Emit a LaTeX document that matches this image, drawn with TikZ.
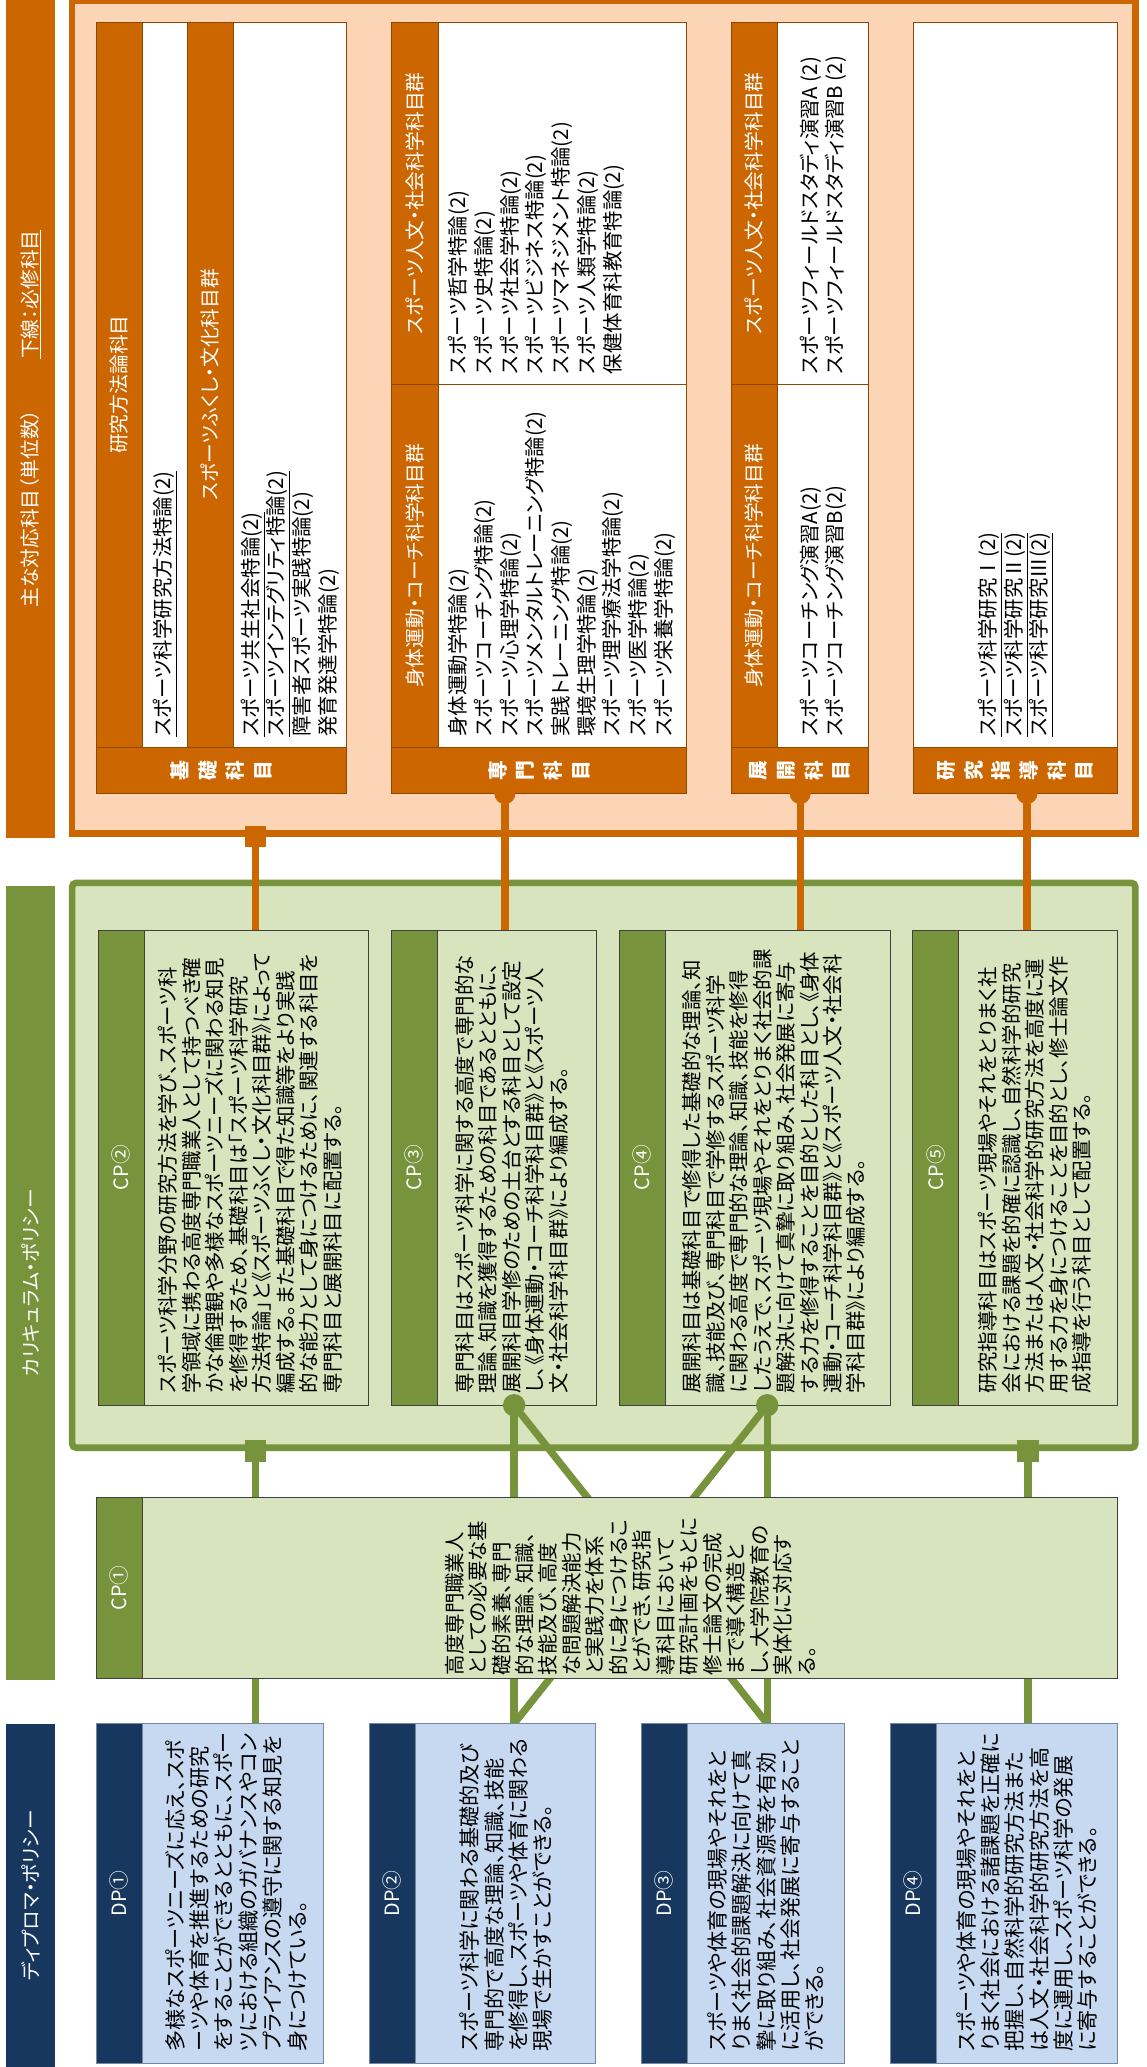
\documentclass[tikz,border=0pt]{standalone}
\usepackage{fontspec}
\setmainfont[RawFeature=+palt]{Noto Sans CJK JP}
\usetikzlibrary{positioning}
\definecolor{orline}{HTML}{CC6600}
\definecolor{orback}{HTML}{FBD5B5}
\definecolor{grline}{HTML}{77933C}
\definecolor{grback}{HTML}{D7E4BD}
\definecolor{nvline}{HTML}{17375E}
\definecolor{nvback}{HTML}{C6D9F1}
\pgfdeclarelayer{frames}
\pgfdeclarelayer{links}
\pgfsetlayers{frames,links,main}

\begin{document}
\begin{tikzpicture}[
  x = 1pt, y = 1pt, rotate = 90, transform shape,
  title_bar/.style={rectangle, anchor=south west, inner sep=0pt, minimum height=37pt, text=white,
    font=\fontsize{15}{18}\selectfont},
  frame_or/.style={rectangle, anchor=south west, inner sep=0pt, draw=orline, line width=5pt, fill=orback},
  frame_gr/.style={rectangle, anchor=south west, inner sep=0pt, draw=grline, line width=5pt, fill=grback,
    rounded corners=3pt},
  strip/.style={rectangle, anchor=south west, inner sep=0pt, minimum width=35pt, fill=orline,
    draw=orline!70!black, line width=0.4pt, text=white, align=center, font=\fontsize{15}{21}\selectfont\bfseries},
  head/.style={rectangle, anchor=south west, inner sep=0pt, fill=orline, draw=orline!70!black,
    line width=0.4pt, text=white, font=\fontsize{15}{18}\selectfont},
  cell/.style={rectangle, anchor=south west, inner sep=0pt, fill=white, draw=orline!70!black, line width=0.4pt},
  list/.style={anchor=west, inner sep=0pt, align=left, font=\fontsize{15.5}{19.5}\selectfont},
  cp_body/.style={rectangle, anchor=south west, inner sep=0pt, minimum width=360pt, fill=grback,
    draw=black!75, line width=0.5pt},
  cp_head/.style={rectangle, anchor=south west, inner sep=0pt, minimum width=360pt, minimum height=35pt,
    fill=grline, draw=black!75, line width=0.5pt, text=white, font=\fontsize{15}{18}\selectfont},
  cp_text/.style={anchor=north west, inner sep=0pt, align=left, font=\fontsize{15.5}{17.8}\selectfont},
  dp_body/.style={rectangle, anchor=south west, inner sep=0pt, minimum width=258pt, fill=nvback,
    draw=nvline!60, line width=0.5pt},
  dp_head/.style={rectangle, anchor=south west, inner sep=0pt, minimum width=258pt, minimum height=34.5pt,
    fill=nvline, draw=nvline!60, line width=0.5pt, text=white, font=\fontsize{15}{18}\selectfont},
  dp_text/.style={anchor=west, inner sep=0pt, align=left, font=\fontsize{16}{18.5}\selectfont},
  link_or/.style={draw=orline, line width=5.5pt, line cap=round},
  link_gr/.style={draw=grline, line width=5.5pt, line cap=round},
  tab_or/.style={circle, fill=orline, inner sep=0pt, minimum size=16pt},
  dot_gr/.style={circle, fill=grline, inner sep=0pt, minimum size=17pt},
  square_or/.style={rectangle, fill=orline, inner sep=0pt, minimum size=16pt},
  square_gr/.style={rectangle, fill=grline, inner sep=0pt, minimum size=16pt}
  ]

\useasboundingbox (0,0) rectangle (1568,870);

\node [title_bar, fill=orline, minimum width=636pt] (bar_kamoku) at (932,828) {主な対応科目（単位数）\hspace{39pt}\underline{下線：必修科目}};
\node [title_bar, fill=grline, minimum width=603pt] (bar_cp) at (293,828) {カリキュラム・ポリシー};
\node [title_bar, fill=nvline, minimum width=260pt] (bar_dp) at (0,828) {ディプロマ・ポリシー};

\begin{pgfonlayer}{frames}
\node [frame_or, minimum width=631.5pt, minimum height=806.5pt] (kamoku) at (933.25,6.25) {};
\node [frame_gr, minimum width=428.5pt, minimum height=806.5pt] (cp_area) at (467.25,6.25) {};
\end{pgfonlayer}

\node [strip, minimum height=190pt] (kiso) at (966,607) {基\\礎\\科\\目};
\node [head, minimum width=550pt, minimum height=35pt] (kiso_head1) at (1001,762) {研究方法論科目};
\node [cell, minimum width=550pt, minimum height=34pt] (kiso_cell1) at (1001,728) {};
\node [head, minimum width=550pt, minimum height=35pt] (kiso_head2) at (1001,693) {スポーツふくし・文化科目群};
\node [cell, minimum width=550pt, minimum height=86pt] (kiso_cell2) at (1001,607) {};
\node [list] (kiso_list1) at (1009,745) {\underline{スポーツ科学研究方法特論(2)}};
\node [list] (kiso_list2) at (1009,650) {\underline{スポーツ共生社会特論(2)}\\\underline{スポーツインテグリティ特論(2)}\\障害者スポーツ実践特論(2)\\発育発達学特論(2)};

\node [strip, minimum height=224pt] (senmon) at (966,349) {専\\門\\科\\目};
\node [head, minimum width=275pt, minimum height=36pt] (senmon_head1) at (1001,537) {身体運動・コーチ科学科目群};
\node [head, minimum width=275pt, minimum height=36pt] (senmon_head2) at (1276,537) {スポーツ人文・社会科学科目群};
\node [cell, minimum width=275pt, minimum height=188pt] (senmon_cell1) at (1001,349) {};
\node [cell, minimum width=275pt, minimum height=188pt] (senmon_cell2) at (1276,349) {};
\node [list, anchor=north west] (senmon_list1) at (1009,530) {身体運動学特論(2)\\スポーツコーチング特論(2)\\スポーツ心理学特論(2)\\スポーツメンタルトレーニング特論(2)\\実践トレーニング特論(2)\\環境生理学特論(2)\\スポーツ理学療法学特論(2)\\スポーツ医学特論(2)\\スポーツ栄養学特論(2)};
\node [list, anchor=north west] (senmon_list2) at (1284,530) {スポーツ哲学特論(2)\\スポーツ史特論(2)\\スポーツ社会学特論(2)\\スポーツビジネス特論(2)\\スポーツマネジメント特論(2)\\スポーツ人類学特論(2)\\保健体育科教育特論(2)};

\node [strip, minimum height=104pt] (tenkai) at (966,211) {展\\開\\科\\目};
\node [head, minimum width=275pt, minimum height=35pt] (tenkai_head1) at (1001,280) {身体運動・コーチ科学科目群};
\node [head, minimum width=275pt, minimum height=35pt] (tenkai_head2) at (1276,280) {スポーツ人文・社会科学科目群};
\node [cell, minimum width=275pt, minimum height=69pt] (tenkai_cell1) at (1001,211) {};
\node [cell, minimum width=275pt, minimum height=69pt] (tenkai_cell2) at (1276,211) {};
\node [list] (tenkai_list1) at (1009,245.5) {スポーツコーチング演習A(2)\\スポーツコーチング演習B(2)};
\node [list] (tenkai_list2) at (1284,245.5) {スポーツフィールドスタディ演習A (2)\\スポーツフィールドスタディ演習B (2)};

\node [strip, minimum height=155pt] (kenkyu) at (966,22) {研\\究\\指\\導\\科\\目};
\node [cell, minimum width=550pt, minimum height=155pt] (kenkyu_cell) at (1001,22) {};
\node [list] (kenkyu_list) at (1009,99.5) {\underline{スポーツ科学研究Ⅰ(2)}\\\underline{スポーツ科学研究Ⅱ(2)}\\\underline{スポーツ科学研究Ⅲ(2)}};

\node [tab_or] (tab_senmon) at (966,487) {};
\node [tab_or] (tab_tenkai) at (966,263) {};
\node [tab_or] (tab_kenkyu) at (966,91) {};
\node [square_or] (sq_kiso) at (933.25,676.4) {};

\node [cp_body, minimum height=205.5pt] (cp2) at (502,590) {};
\node [cp_head] (cp2_head) at (502,760.5) {CP②};
\node [cp_text] (cp2_text) at (511,750) {スポーツ科学分野の研究方法を学び、スポーツ科\\学領域に携わる高度専門職業人として持つべき確\\かな倫理観や多様なスポーツニーズに関わる知見\\を修得するため、基礎科目は「スポーツ科学研究\\方法特論」と《スポーツふくし・文化科目群》によって\\編成する。また基礎科目で得た知識等をより実践\\的な能力として身につけるために、関連する科目を\\専門科目と展開科目に配置する。};

\node [cp_body, minimum height=156pt] (cp3) at (502,417) {};
\node [cp_head] (cp3_head) at (502,538) {CP③};
\node [cp_text] (cp3_text) at (511,525) {専門科目はスポーツ科学に関する高度で専門的な\\理論、知識を獲得するための科目であるとともに、\\展開科目学修のための土台とする科目として設定\\し、《身体運動・コーチ科学科目群》と《スポーツ人\\文・社会科学科目群》により編成する。};

\node [cp_body, minimum height=206pt] (cp4) at (502,194) {};
\node [cp_head] (cp4_head) at (502,365) {CP④};
\node [cp_text] (cp4_text) at (511,352.5) {展開科目は基礎科目で修得した基礎的な理論、知\\識、技能及び、専門科目で学修するスポーツ科学\\に関わる高度で専門的な理論、知識、技能を修得\\したうえで、スポーツ現場やそれをとりまく社会的課\\題解決に向けて真摯に取り組み、社会発展に寄与\\する力を修得することを目的とした科目とし、《身体\\運動・コーチ科学科目群》と《スポーツ人文・社会科\\学科目群》により編成する。};

\node [cp_body, minimum height=155.5pt] (cp5) at (502,22) {};
\node [cp_head] (cp5_head) at (502,142.5) {CP⑤};
\node [cp_text] (cp5_text) at (511,128) {研究指導科目はスポーツ現場やそれをとりまく社\\会における課題を的確に認識し、自然科学的研究\\方法または人文・社会科学的研究方法を高度に運\\用する力を身につけることを目的とし、修士論文作\\成指導を行う科目として配置する。};

\node [dot_gr] (dot_cp3) at (502,480) {};
\node [dot_gr] (dot_cp4) at (502,288) {};
\node [square_gr] (sq_cp1) at (467.25,676.4) {};
\node [square_gr] (sq_cp5) at (467.25,90.2) {};

\node [cp_body, minimum width=137.7pt, minimum height=774.5pt] (cp1) at (294.3,22) {};
\node [cp_head, minimum width=137.7pt, minimum height=34.5pt] (cp1_head) at (294.3,762) {CP①};
\node [cp_text, anchor=west] (cp1_text) at (297,392) {高度専門職業人\\としての必要な基\\礎的素養、専門\\的な理論、知識、\\技能及び、高度\\な問題解決能力\\と実践力を体系\\的に身につけるこ\\とができ、研究指\\導科目において\\研究計画をもとに\\修士論文の完成\\まで導く構造と\\し、大学院教育の\\実体化に対応す\\る。};

\node [dp_body, minimum height=172pt] (dp1) at (2.5,624.5) {};
\node [dp_head] (dp1_head) at (2.5,762) {DP①};
\node [dp_text] (dp1_text) at (11.5,691) {多様なスポーツニーズに応え、スポ\\ーツや体育を推進するための研究\\をすることができるとともに、スポー\\ツにおける組織のガバナンスやコン\\プライアンスの遵守に関する知見を\\身につけている。};

\node [dp_body, minimum height=171.4pt] (dp2) at (2.5,418) {};
\node [dp_head] (dp2_head) at (2.5,554.9) {DP②};
\node [dp_text] (dp2_text) at (11.5,486) {スポーツ科学に関わる基礎的及び\\専門的で高度な理論、知識、技能\\を修得し、スポーツや体育に関わる\\現場で生かすことができる。};

\node [dp_body, minimum height=154.2pt] (dp3) at (2.5,229) {};
\node [dp_head] (dp3_head) at (2.5,348.7) {DP③};
\node [dp_text] (dp3_text) at (11.5,289) {スポーツや体育の現場やそれをと\\りまく社会的課題解決に向けて真\\摯に取り組み、社会資源等を有効\\に活用し、社会発展に寄与すること\\ができる。};

\node [dp_body, minimum height=172.3pt] (dp4) at (2.5,22) {};
\node [dp_head] (dp4_head) at (2.5,159.8) {DP④};
\node [dp_text] (dp4_text) at (11.5,91) {スポーツや体育の現場やそれをと\\りまく社会における諸課題を正確に\\把握し、自然科学的研究方法また\\は人文・社会科学的研究方法を高\\度に運用し、スポーツ科学の発展\\に寄与することができる。};

\coordinate (cp2_in) at (862,676.4);
\coordinate (cp3_in) at (862,487);
\coordinate (cp4_in) at (862,263);
\coordinate (cp5_in) at (862,91);
\coordinate (dp1_in) at (260.5,676.4);
\coordinate (dp2_in) at (260.5,480);
\coordinate (dp3_in) at (260.5,288);
\coordinate (dp4_in) at (260.5,90.2);

\begin{pgfonlayer}{links}
\path [link_or] (sq_kiso) -- (cp2_in);
\path [link_or] (tab_senmon) -- (cp3_in);
\path [link_or] (tab_tenkai) -- (cp4_in);
\path [link_or] (tab_kenkyu) -- (cp5_in);
\path [link_gr] (sq_cp1) -- (dp1_in);
\path [link_gr] (sq_cp5) -- (dp4_in);
\path [link_gr] (dot_cp3) -- (dp2_in);
\path [link_gr] (dot_cp3) -- (dp3_in);
\path [link_gr] (dot_cp4) -- (dp3_in);
\path [link_gr] (dot_cp4) -- (dp2_in);
\end{pgfonlayer}
\end{tikzpicture}
\end{document}
